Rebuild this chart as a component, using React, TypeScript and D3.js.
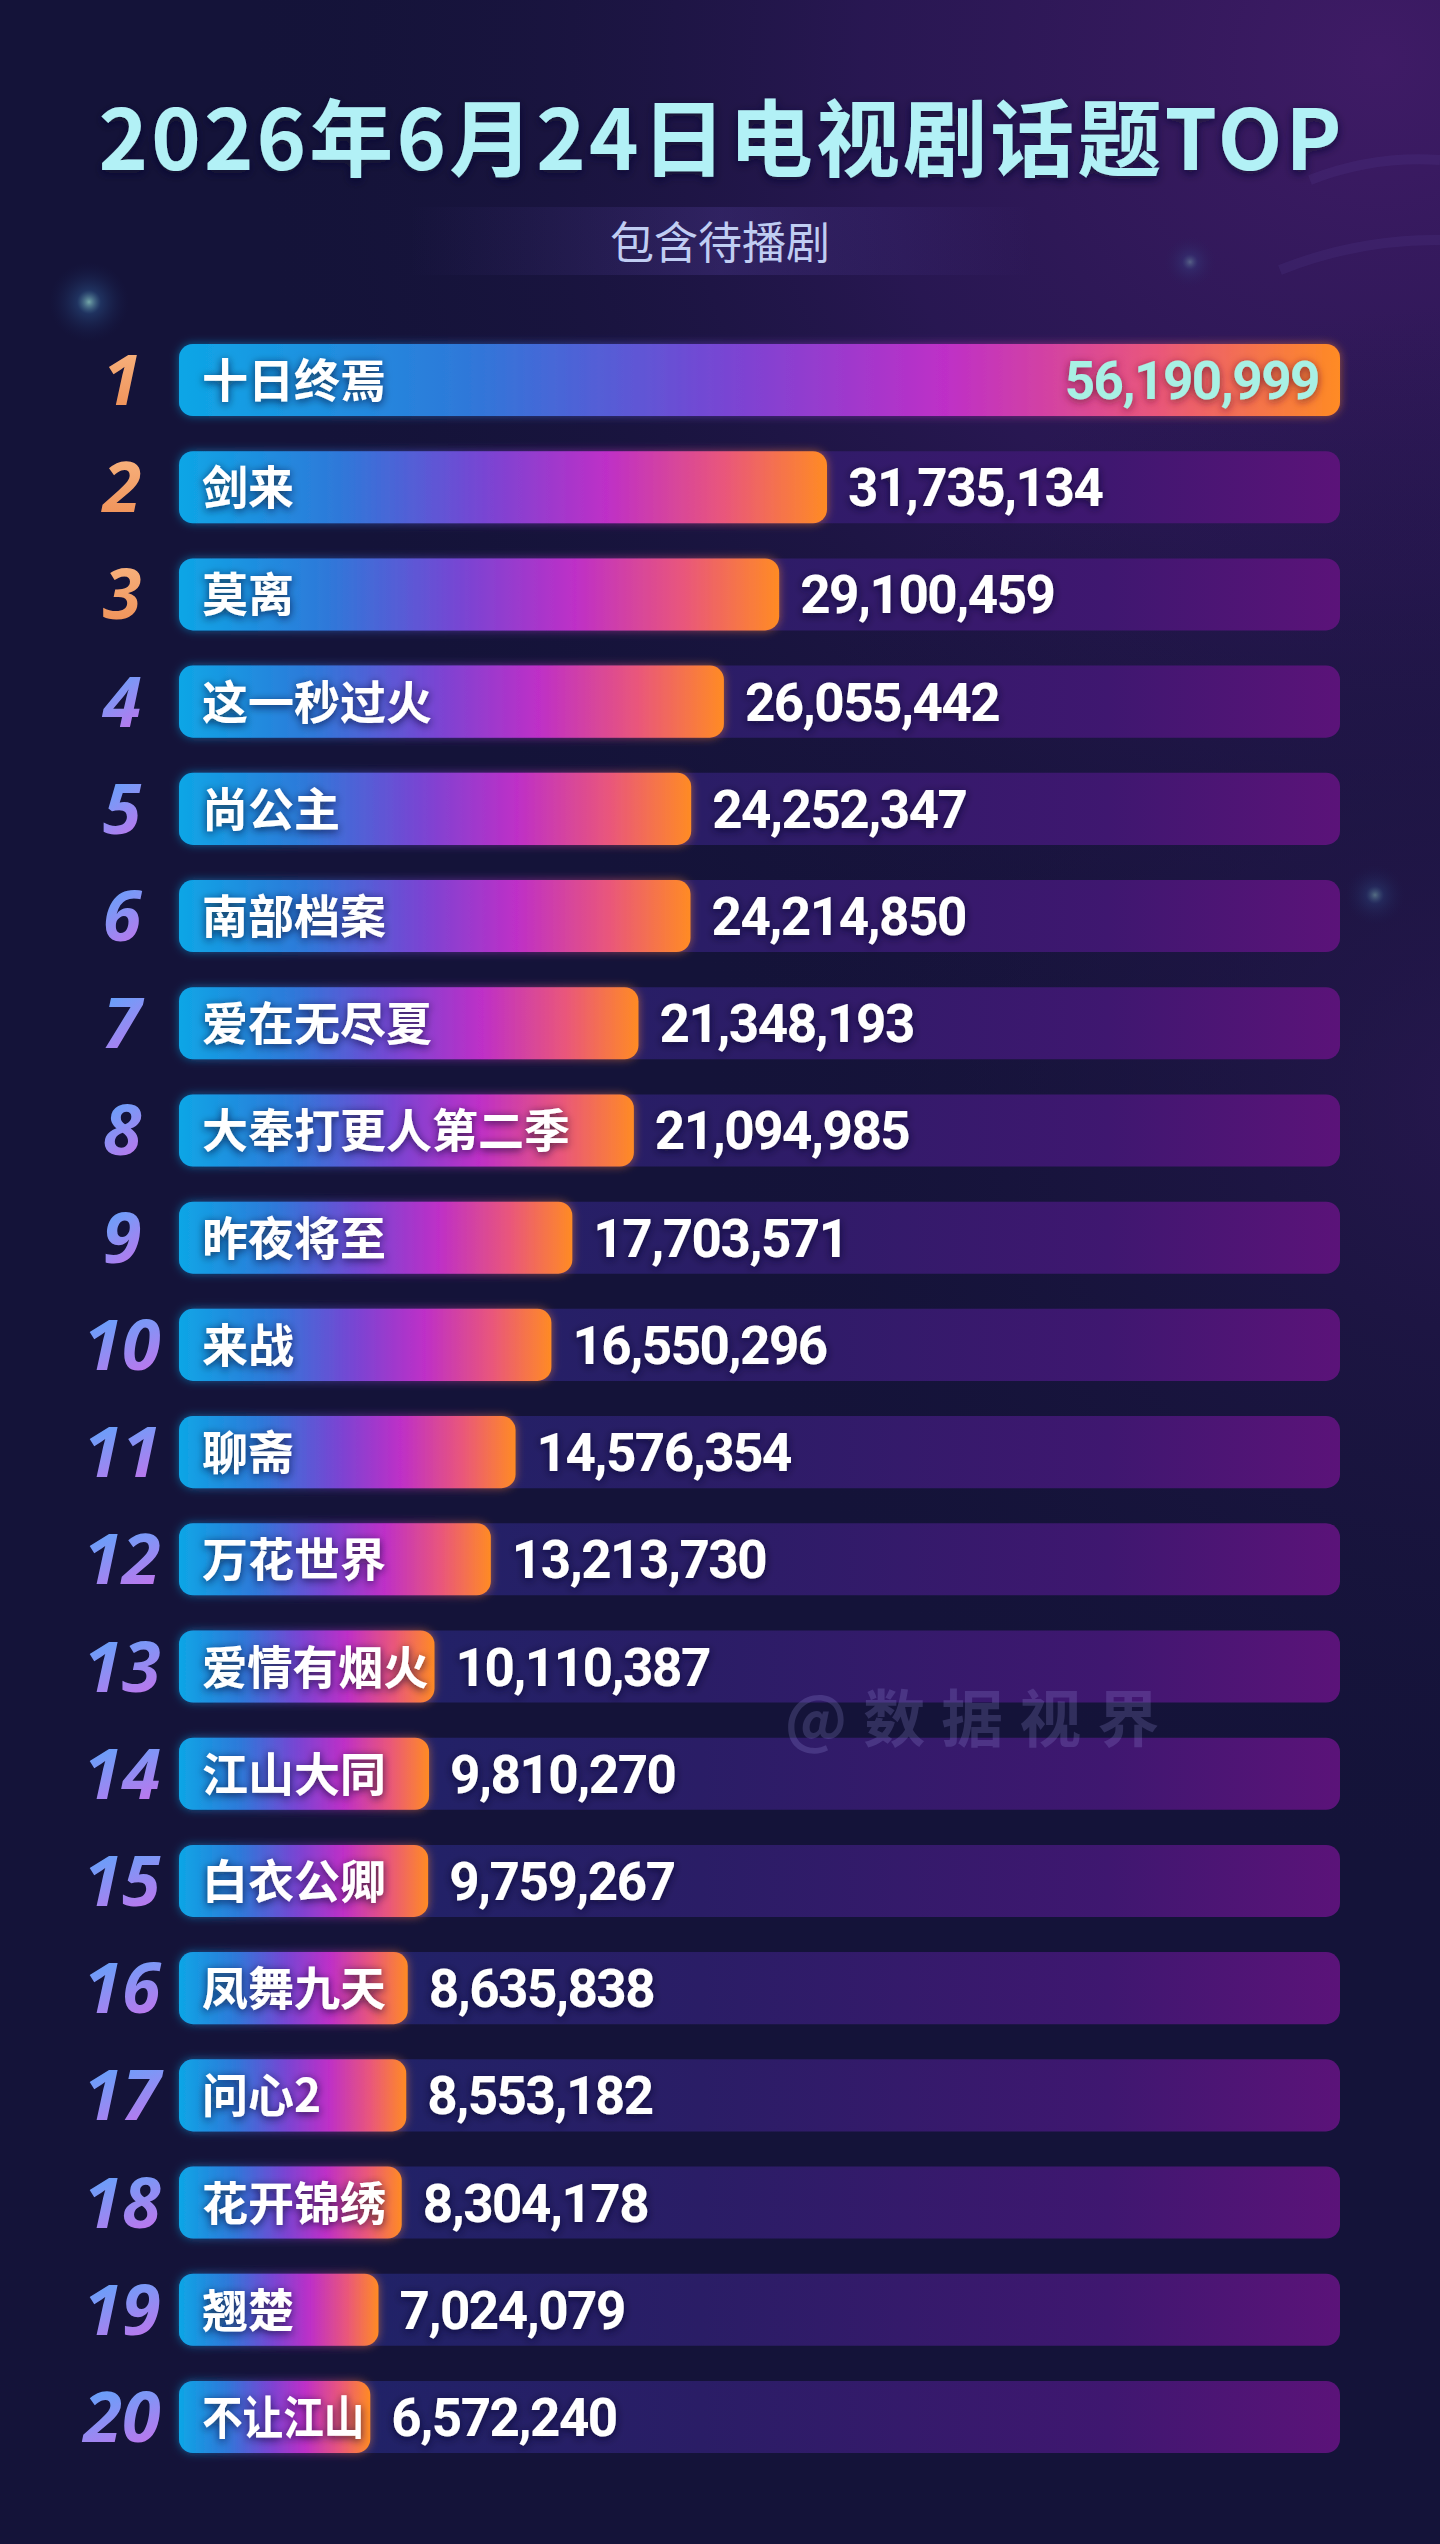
import React from 'react';
import * as d3 from 'd3';

const TITLE = '2026年6月24日电视剧话题TOP';
const SUBTITLE = '包含待播剧';
const WATERMARK = '@数据视界';

const dramas = [
  '十日终焉', '剑来', '莫离', '这一秒过火', '尚公主', '南部档案', '爱在无尽夏',
  '大奉打更人第二季', '昨夜将至', '来战', '聊斋', '万花世界', '爱情有烟火', '江山大同',
  '白衣公卿', '凤舞九天', '问心2', '花开锦绣', '翘楚', '不让江山',
];
const topicCounts = [
  56190999, 31735134, 29100459, 26055442, 24252347, 24214850, 21348193,
  21094985, 17703571, 16550296, 14576354, 13213730, 10110387, 9810270,
  9759267, 8635838, 8553182, 8304178, 7024079, 6572240,
];
const ranks = dramas.map((_, i) => String(i + 1));
const scaleMax = 60000000;

export default function App() {
  const W = 1440;
  const H = 2544;
  const trackLeft = 179;
  const trackRight = 1340;
  const labelSize = 46;
  const y = d3
    .scaleBand<string>()
    .domain(ranks)
    .range([344, 2453])
    .paddingInner(0.328)
    .paddingOuter(0);
  const bh = y.bandwidth();
  const x = d3.scaleLinear().domain([0, scaleMax]).range([251, trackRight]);
  const fmt = d3.format(',');

  const rows = dramas.map((name, i) => {
    const top = y(ranks[i]) as number;
    const end = i === 0 ? x.range()[1] : x(topicCounts[i]);
    const natural = Array.from(name).reduce((s, ch) => s + (/[0-9A-Za-z]/.test(ch) ? 0.55 : 1), 0) * labelSize;
    const avail = end - (trackLeft + 23) - 6;
    return {
      name, value: topicCounts[i], rank: ranks[i], top, cy: top + bh / 2, end, i,
      squeeze: natural > avail ? avail : null,
    };
  });

  return (
    <svg
      width={W}
      height={H}
      viewBox={`0 0 ${W} ${H}`}
      style={{ position: 'absolute', left: 0, top: 0, display: 'block' }}
    >
      <defs>
        <radialGradient id="bgTR" gradientUnits="userSpaceOnUse" cx={1380} cy={60} r={1150}>
          <stop offset="0" stopColor="#3f1b66" stopOpacity={1} />
          <stop offset="0.45" stopColor="#2d1858" stopOpacity={0.8} />
          <stop offset="1" stopColor="#151338" stopOpacity={0} />
        </radialGradient>
        <radialGradient id="bgR" gradientUnits="userSpaceOnUse" cx={1480} cy={1100} r={800}>
          <stop offset="0" stopColor="#2a1852" stopOpacity={0.8} />
          <stop offset="1" stopColor="#151338" stopOpacity={0} />
        </radialGradient>
        <radialGradient id="spot" cx="0.5" cy="0.5" r="0.5">
          <stop offset="0" stopColor="#9fe8d8" stopOpacity={0.7} />
          <stop offset="0.3" stopColor="#3a7ab8" stopOpacity={0.3} />
          <stop offset="1" stopColor="#1a2a60" stopOpacity={0} />
        </radialGradient>
        <linearGradient id="subLine" x1="0" x2="1" y1="0" y2="0">
          <stop offset="0" stopColor="#6f8cff" stopOpacity={0} />
          <stop offset="0.35" stopColor="#9ab8ff" stopOpacity={0.9} />
          <stop offset="0.55" stopColor="#e0e8ff" stopOpacity={1} />
          <stop offset="0.75" stopColor="#a78cff" stopOpacity={0.8} />
          <stop offset="1" stopColor="#8a6cff" stopOpacity={0} />
        </linearGradient>
        <linearGradient id="subBand" x1="0" x2="1" y1="0" y2="0">
          <stop offset="0" stopColor="#6a50c0" stopOpacity={0} />
          <stop offset="0.5" stopColor="#6a50c0" stopOpacity={0.22} />
          <stop offset="1" stopColor="#6a50c0" stopOpacity={0} />
        </linearGradient>
        <linearGradient id="track" gradientUnits="userSpaceOnUse" x1={trackLeft} x2={trackRight} y1={0} y2={0}>
          <stop offset="0" stopColor="#1b2568" />
          <stop offset="0.45" stopColor="#2a1d66" />
          <stop offset="0.8" stopColor="#3f1770" />
          <stop offset="1" stopColor="#5b1379" />
        </linearGradient>
        <linearGradient id="bar" x1="0" x2="1" y1="0" y2="0">
          <stop offset="0" stopColor="#0ea6e6" />
          <stop offset="0.25" stopColor="#2f78d9" />
          <stop offset="0.47" stopColor="#7845d3" />
          <stop offset="0.66" stopColor="#be2fc7" />
          <stop offset="0.84" stopColor="#e9567c" />
          <stop offset="1" stopColor="#ff8b24" />
        </linearGradient>
        <linearGradient id="rankTop" x1="0" x2="0" y1="0" y2="1">
          <stop offset="0" stopColor="#f9bb88" />
          <stop offset="1" stopColor="#ee8a50" />
        </linearGradient>
        <linearGradient id="rankRest" x1="0" x2="0.3" y1="0" y2="1">
          <stop offset="0" stopColor="#48acff" />
          <stop offset="0.5" stopColor="#7f96f6" />
          <stop offset="1" stopColor="#c074ec" />
        </linearGradient>
        <filter id="barGlow" x="-10%" y="-40%" width="120%" height="180%">
          <feGaussianBlur in="SourceGraphic" stdDeviation="5" result="b" />
          <feComponentTransfer in="b" result="b2">
            <feFuncA type="linear" slope="0.55" />
          </feComponentTransfer>
          <feMerge>
            <feMergeNode in="b2" />
            <feMergeNode in="SourceGraphic" />
          </feMerge>
        </filter>
        <filter id="txtShadow" x="-20%" y="-40%" width="140%" height="180%">
          <feDropShadow dx="0" dy="2" stdDeviation="4" floodColor="#0c0828" floodOpacity="0.75" />
        </filter>
        <filter id="topShadow" x="-20%" y="-40%" width="140%" height="180%">
          <feDropShadow dx="0" dy="2" stdDeviation="4" floodColor="#6a1230" floodOpacity="0.8" />
        </filter>
        <filter id="titleGlow" x="-10%" y="-40%" width="120%" height="180%">
          <feDropShadow dx="0" dy="3" stdDeviation="5" floodColor="#0a0a30" floodOpacity="0.8" />
        </filter>
      </defs>

      {/* background */}
      <rect x={0} y={0} width={W} height={H} fill="#141339" />
      <rect x={0} y={0} width={W} height={H} fill="url(#bgTR)" />
      <rect x={0} y={0} width={W} height={H} fill="url(#bgR)" />
      <circle cx={89} cy={302} r={40} fill="url(#spot)" />
      <circle cx={1375} cy={895} r={30} fill="url(#spot)" opacity={0.6} />
      <circle cx={1190} cy={262} r={26} fill="url(#spot)" opacity={0.5} />
      <g fill="none" stroke="#6a5ab8" strokeOpacity={0.12} strokeWidth={10}>
        <path d="M 1280 270 A 420 420 0 0 1 1440 240" />
        <path d="M 1310 180 A 300 300 0 0 1 1440 160" />
      </g>

      {/* title */}
      <text
        x={W / 2}
        y={170}
        textAnchor="middle"
        fontFamily="'Noto Sans CJK SC', 'Noto Sans', sans-serif"
        fontWeight={700}
        fontSize={84}
        fill="#b2f1f6"
        textLength={1243}
        lengthAdjust="spacing"
        filter="url(#titleGlow)"
      >
        {TITLE}
      </text>

      {/* subtitle */}
      <rect x={409} y={207} width={624} height={68} fill="url(#subBand)" />
      <line x1={409} x2={1033} y1={206} y2={206} stroke="url(#subLine)" strokeWidth={2} />
      <line x1={409} x2={1033} y1={275} y2={275} stroke="url(#subLine)" strokeWidth={2} />
      <text
        x={W / 2}
        y={259}
        textAnchor="middle"
        fontFamily="'Noto Sans CJK SC', sans-serif"
        fontWeight={400}
        fontSize={44}
        fill="#c0cdf2"
      >
        {SUBTITLE}
      </text>

      {/* rows */}
      {rows.map((r) => (
        <g key={r.rank}>
          <rect x={trackLeft} y={r.top} width={trackRight - trackLeft} height={bh} rx={14} fill="url(#track)" />
          <rect
            x={trackLeft}
            y={r.top}
            width={r.end - trackLeft}
            height={bh}
            rx={14}
            fill="url(#bar)"
            filter="url(#barGlow)"
          />
          <text
            x={122}
            y={r.cy + 25}
            textAnchor="middle"
            fontFamily="'Open Sans', Lato, sans-serif"
            fontStyle="italic"
            fontWeight={700}
            fontSize={70}
            fill={r.i < 3 ? 'url(#rankTop)' : 'url(#rankRest)'}
          >
            {r.rank}
          </text>
          <text
            x={trackLeft + 23}
            y={r.cy + 17}
            fontFamily="'Noto Sans CJK SC', sans-serif"
            fontWeight={700}
            fontSize={labelSize}
            fill="#ffffff"
            filter="url(#txtShadow)"
            {...(r.squeeze ? { textLength: r.squeeze, lengthAdjust: 'spacingAndGlyphs' } : {})}
          >
            {r.name}
          </text>
          {r.i === 0 ? (
            <text
              x={r.end - 21}
              y={r.cy + 19}
              textAnchor="end"
              fontFamily="Roboto, 'Noto Sans', sans-serif"
              fontWeight={700}
              fontSize={53}
              letterSpacing={-1.5}
              fill="#a8f0e4"
              filter="url(#topShadow)"
            >
              {fmt(r.value)}
            </text>
          ) : (
            <text
              x={r.end + 21}
              y={r.cy + 19}
              fontFamily="Roboto, 'Noto Sans', sans-serif"
              fontWeight={700}
              fontSize={53}
              letterSpacing={-1.5}
              fill="#ffffff"
              filter="url(#txtShadow)"
            >
              {fmt(r.value)}
            </text>
          )}
        </g>
      ))}

      {/* watermark */}
      <text
        x={980}
        y={1742}
        textAnchor="middle"
        fontFamily="'Noto Sans CJK SC', sans-serif"
        fontWeight={700}
        fontSize={62}
        letterSpacing={16}
        fill="#9a96e0"
        fillOpacity={0.22}
      >
        {WATERMARK}
      </text>
    </svg>
  );
}
